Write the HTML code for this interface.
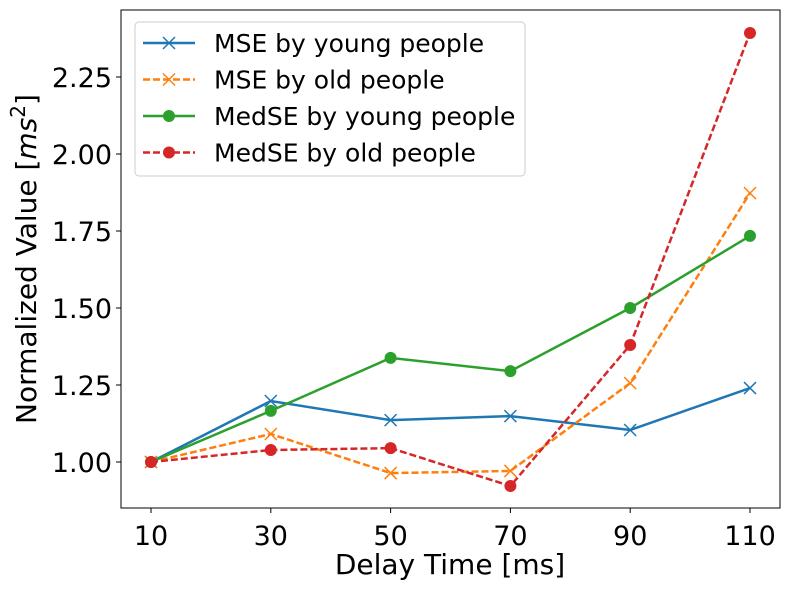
<!DOCTYPE html>
<html><head><meta charset="utf-8"><style>
body{margin:0;background:#fff}
text{font-family:"DejaVu Sans","Liberation Sans",sans-serif;fill:#000}
</style></head><body>
<svg id="chart" width="790" height="590" xmlns="http://www.w3.org/2000/svg"></svg>
<script>
const categories=[10,30,50,70,90,110];
const mseYoung=[1.0,1.198,1.136,1.149,1.104,1.24];
const mseOld=[1.0,1.091,0.964,0.971,1.256,1.873];
const medseYoung=[1.0,1.166,1.338,1.295,1.5,1.734];
const medseOld=[1.0,1.039,1.045,0.922,1.38,2.393];
const yTicks=[1.00,1.25,1.50,1.75,2.00,2.25];
const seriesNames=["MSE by young people","MSE by old people","MedSE by young people","MedSE by old people"];
const NS="http://www.w3.org/2000/svg";
const svg=document.getElementById('chart');
const L=121,R=780,T=10,B=508;
function xs(v){return 151+(v-10)*(750-151)/100;}
function ys(v){return 462-(v-1)*308;}
function mk(tag,attrs,parent){const e=document.createElementNS(NS,tag);for(const k in attrs)e.setAttribute(k,attrs[k]);(parent||svg).appendChild(e);return e;}
const frame=mk('rect',{x:L,y:T,width:R-L,height:B-T,fill:'none',stroke:'#000','stroke-width':1});


categories.forEach(c=>{
 const t=mk('line',{x1:xs(c),x2:xs(c),y1:B,y2:B+5,stroke:'#000'});
 
 
 const l=mk('text',{x:xs(c),y:B+37,'text-anchor':'middle','font-size':27});
 l.textContent=c;
 
 
});
yTicks.forEach(v=>{
 const t=mk('line',{x1:L-5,x2:L,y1:ys(v),y2:ys(v),stroke:'#000'});
 
 
 const l=mk('text',{x:L-9,y:ys(v)+10,'text-anchor':'end','font-size':27});
 l.textContent=v.toFixed(2);
 
 
});
const xt=mk('text',{x:450,y:574,'text-anchor':'middle','font-size':28});
xt.textContent='Delay Time [ms]';


const yt=mk('text',{x:0,y:0,'text-anchor':'middle','font-size':28,transform:'translate(36,259) rotate(-90)'});
yt.innerHTML='Normalized Value [<tspan font-style="italic">ms</tspan><tspan dy="-11" font-size="20">2</tspan><tspan dy="11">]</tspan>';


const series=[
 {d:mseYoung,c:'#1f77b4',dash:null,m:'x'},
 {d:mseOld,c:'#ff7f0e',dash:'7,3',m:'x'},
 {d:medseYoung,c:'#2ca02c',dash:null,m:'o'},
 {d:medseOld,c:'#d62728',dash:'7,3',m:'o'}];
function marker(x,y,s,g){
 if(s.m==='x'){const p=mk('path',{d:`M${x-6},${y-6}L${x+6},${y+6}M${x-6},${y+6}L${x+6},${y-6}`,stroke:s.c,'stroke-width':1.5,fill:'none'},g);}
 else{const c=mk('circle',{cx:x,cy:y,r:6,fill:s.c},g);}
}
series.forEach((s,i)=>{
 const g=mk('g',{});
 
 
 const pts=s.d.map((v,j)=>xs(categories[j])+','+ys(v)).join(' ');
 const pl=mk('polyline',{points:pts,fill:'none',stroke:s.c,'stroke-width':2.5},g);
 if(s.dash)pl.setAttribute('stroke-dasharray',s.dash);
 
 
 s.d.forEach((v,j)=>marker(xs(categories[j]),ys(v),s,g));
});
const lg=mk('g',{});


mk('rect',{x:135,y:22,width:390,height:154,rx:4,fill:'#fff','fill-opacity':0.8,stroke:'#ccc'},lg);
series.forEach((s,i)=>{
 const y=43+i*36.5;
 const e=mk('g',{},lg);
 
 
 const ln=mk('line',{x1:143,x2:195,y1:y,y2:y,stroke:s.c,'stroke-width':2.5},e);
 if(s.dash)ln.setAttribute('stroke-dasharray',s.dash);
 marker(169,y,s,e);
 const t=mk('text',{x:214,y:y+9,'font-size':25},e);
 t.textContent=seriesNames[i];
});
</script>
</body></html>
